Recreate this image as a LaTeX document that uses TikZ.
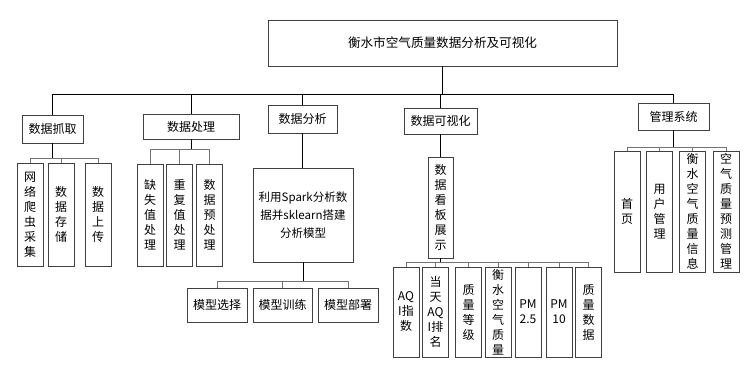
\documentclass[tikz,border=0pt]{standalone}
\usepackage{fontspec}
\setmainfont{Noto Sans CJK SC}
\begin{document}
\begin{tikzpicture}[x=1pt,y=-1pt,
  box/.style={draw=black!75, line width=0.8pt, fill=white, inner sep=0pt, align=center,
    font=\fontsize{12}{15}\selectfont},
  cbox/.style={box, font=\fontsize{11.5}{18}\selectfont},
  tbox/.style={box, font=\fontsize{12.6}{16}\selectfont},
  stem/.style={draw=black, line width=0.8pt},
  brk/.style={draw=black!55, line width=0.8pt}]
\useasboundingbox (0,0) rectangle (754,373);
% top
\node[tbox, minimum width=349pt, minimum height=46pt] (top) at (442.5,43) {衡水市空气质量数据分析及可视化};
% level 1
\node[box, minimum width=61pt, minimum height=28pt] (n1) at (52.5,129) {数据抓取};
\node[box, minimum width=96pt, minimum height=25pt] (n2) at (191,126.5) {数据处理};
\node[box, minimum width=69pt, minimum height=28pt] (n3) at (302.5,119) {数据分析};
\node[box, minimum width=73pt, minimum height=26pt] (n4) at (440.5,121) {数据可视化};
\node[box, minimum width=71pt, minimum height=27pt] (n5) at (673.5,116.5) {管理系统};
% bus
\coordinate (bus) at (442.5,94);
\draw[stem] (top.south) -- (bus);
\draw[stem] (n1.north) -- (n1.north |- bus) -- (n5.north |- bus) -- (n5.north);
\draw[stem] (n2.north) -- (n2.north |- bus);
\draw[stem] (n3.north) -- (n3.north |- bus);
\draw[stem] (n4.north) -- (n4.north |- bus);
% branch 1
\node[box, minimum width=26pt, minimum height=103pt] (l11) at (30,214.5) {网\\络\\爬\\虫\\采\\集};
\node[box, minimum width=26pt, minimum height=103pt] (l12) at (61,214.5) {数\\据\\存\\储};
\node[box, minimum width=26pt, minimum height=103pt] (l13) at (98,214.5) {数\\据\\上\\传};
\coordinate (b1) at (52.5,158);
\draw[stem] (n1.south) -- (n1.south |- b1);
\draw[brk] (l11.north) -- (l11.north |- b1) -- (l13.north |- b1) -- (l13.north);
\draw[brk] (l12.north) -- (l12.north |- b1);
% branch 2
\node[box, minimum width=26pt, minimum height=102pt] (l21) at (150,215) {缺\\失\\值\\处\\理};
\node[box, minimum width=26pt, minimum height=102pt] (l22) at (179.5,215) {重\\复\\值\\处\\理};
\node[box, minimum width=26pt, minimum height=102pt] (l23) at (209.5,215) {数\\据\\预\\处\\理};
\coordinate (b2) at (191,149);
\draw[stem] (n2.south) -- (n2.south |- b2);
\draw[brk] (l21.north) -- (l21.north |- b2) -- (l23.north |- b2) -- (l23.north);
\draw[brk] (l22.north) -- (l22.north |- b2);
% branch 3
\node[cbox, minimum width=100pt, minimum height=94pt] (c3) at (303,215) {利用Spark分析数\\据并sklearn搭建\\分析模型};
\draw[stem] (n3.south) -- (n3.south |- c3.north);
\node[box, minimum width=60pt, minimum height=34pt] (l31) at (217,305) {模型选择};
\node[box, minimum width=59pt, minimum height=34pt] (l32) at (282.5,305) {模型训练};
\node[box, minimum width=60pt, minimum height=34pt] (l33) at (348,305) {模型部署};
\coordinate (b3) at (303,281);
\draw[stem] (c3.south) -- (c3.south |- b3);
\draw[brk] (l31.north) -- (l31.north |- b3) -- (l33.north |- b3) -- (l33.north);
\draw[brk] (l32.north) -- (l32.north |- b3);
% branch 4
\node[box, minimum width=25pt, minimum height=101pt] (c4) at (440.5,207.5) {数\\据\\看\\板\\展\\示};
\draw[stem] (n4.south) -- (c4.north);
\node[box, minimum width=26pt, minimum height=90pt] (l41) at (406,312) {AQ\\I指\\数};
\node[box, minimum width=26pt, minimum height=90pt] (l42) at (435.5,312) {当\\天\\AQ\\I排\\名};
\node[box, minimum width=26pt, minimum height=90pt] (l43) at (468.5,312) {质\\量\\等\\级};
\node[box, minimum width=26pt, minimum height=90pt] (l44) at (498,312) {衡\\水\\空\\气\\质\\量};
\node[box, minimum width=26pt, minimum height=90pt] (l45) at (528,312) {PM\\2.5};
\node[box, minimum width=26pt, minimum height=90pt] (l46) at (559,312) {PM\\10};
\node[box, minimum width=26pt, minimum height=90pt] (l47) at (588.5,312) {质\\量\\数\\据};
\coordinate (b4) at (440.5,262);
\draw[stem] (c4.south) -- (c4.south |- b4);
\draw[brk] (l41.north) -- (l41.north |- b4) -- (l47.north |- b4) -- (l47.north);
\foreach \k in {2,...,6} \draw[brk] (l4\k.north) -- (l4\k.north |- b4);
% branch 5
\node[box, minimum width=26pt, minimum height=121pt] (l51) at (627,211.5) {首\\页};
\node[box, minimum width=26pt, minimum height=121pt] (l52) at (659.5,211.5) {用\\户\\管\\理};
\node[box, minimum width=26pt, minimum height=121pt] (l53) at (692.5,211.5) {衡\\水\\空\\气\\质\\量\\信\\息};
\node[box, minimum width=26pt, minimum height=121pt] (l54) at (726,211.5) {空\\气\\质\\量\\预\\测\\管\\理};
\coordinate (b5) at (673.5,147);
\draw[stem] (n5.south) -- (n5.south |- b5);
\draw[brk] (l51.north) -- (l51.north |- b5) -- (l54.north |- b5) -- (l54.north);
\draw[brk] (l52.north) -- (l52.north |- b5);
\draw[brk] (l53.north) -- (l53.north |- b5);
\end{tikzpicture}
\end{document}
